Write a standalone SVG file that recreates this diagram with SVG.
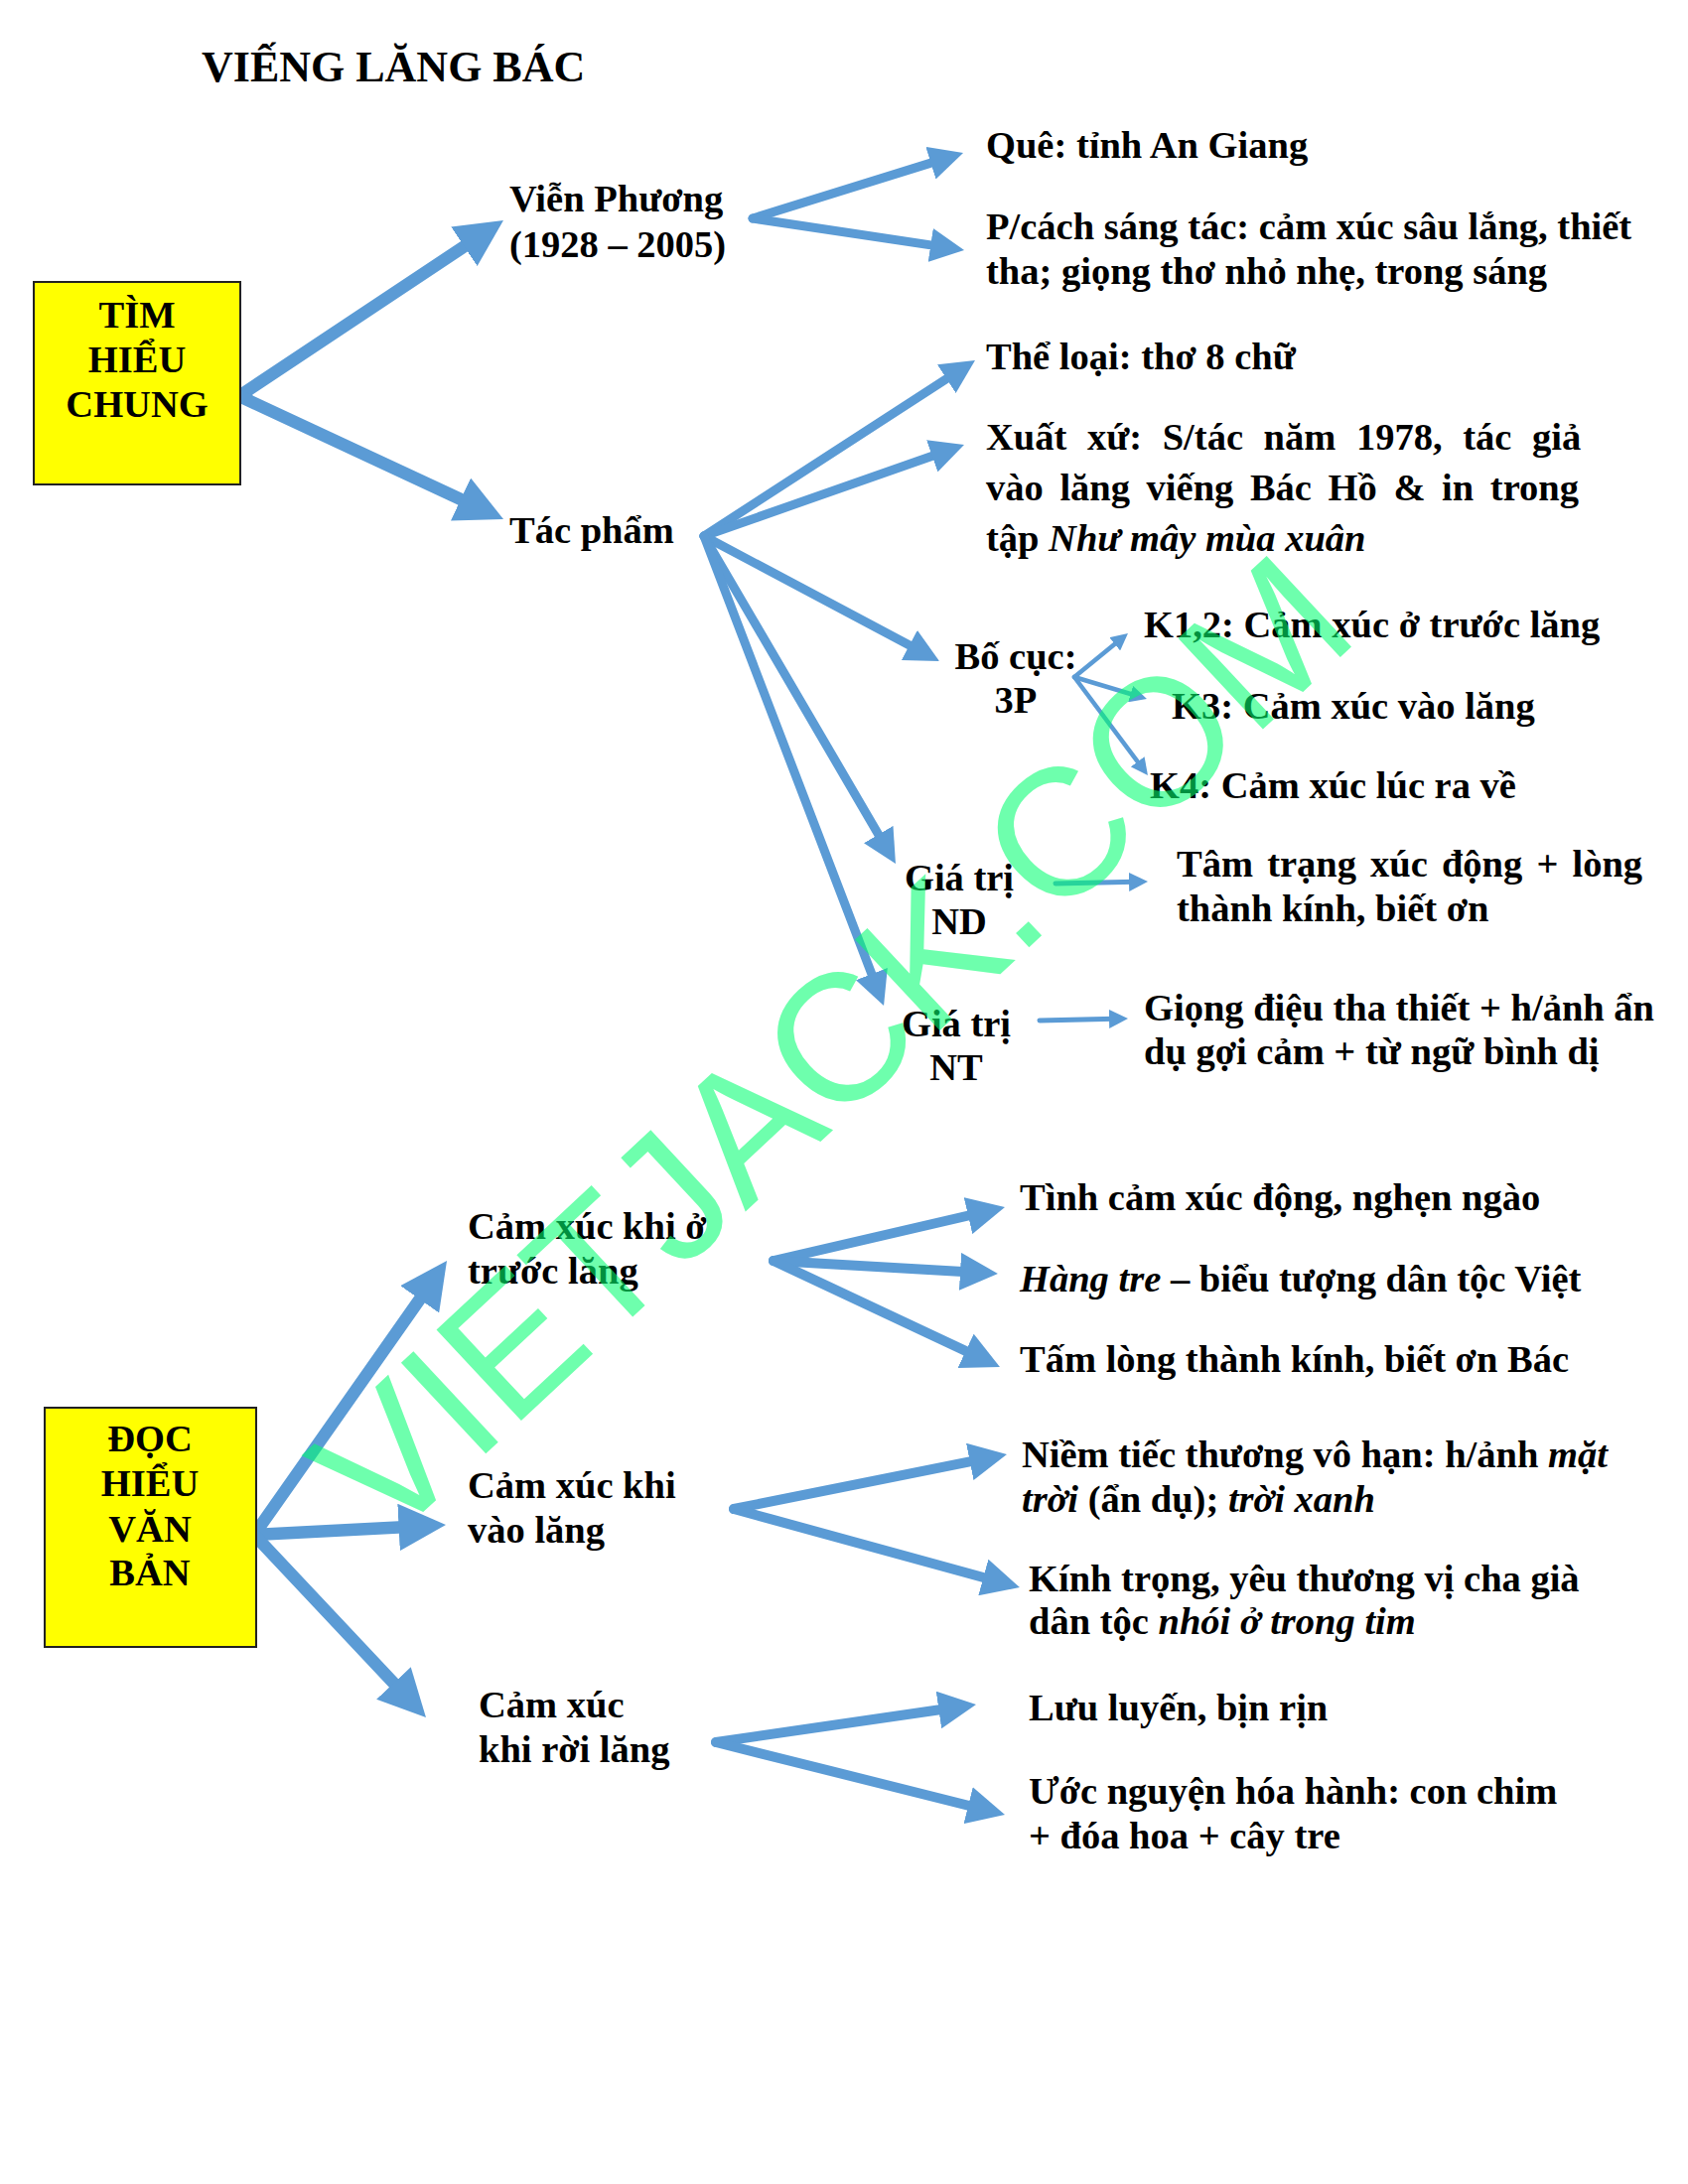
<svg xmlns="http://www.w3.org/2000/svg" width="1700" height="2200" viewBox="0 0 1700 2200">
<defs>
<marker id="ah" viewBox="0 0 10 10" refX="3" refY="5" markerWidth="3.8" markerHeight="3.8" orient="auto"><path d="M0,0 L10,5 L0,10 z" fill="#5B9BD5"/></marker>
<style>
.t{font-family:"Liberation Serif","Times New Roman",serif;font-weight:bold;font-size:38.5px;fill:#000}
.i{font-style:italic}
.c{text-anchor:middle}
.box{fill:#FFFF00;stroke:#222;stroke-width:2}
.a{stroke:#5B9BD5;fill:none;stroke-linecap:round;marker-end:url(#ah)}
.a1{stroke-width:12.5}
.a2{stroke-width:9}
.a3{stroke-width:10}
.a4{stroke-width:4.5}
.wm{font-family:"Liberation Sans",Arial,sans-serif;font-weight:normal;font-size:182px;fill:#00FF6E;fill-opacity:0.57;text-anchor:middle}
</style>
</defs>
<rect width="1700" height="2200" fill="#fff"/>
<g id="title"><text class="t" x="203" y="82" style="font-size:44px">VIẾNG LĂNG BÁC</text></g>

<g id="connectors">
<line class="a a1" x1="241" y1="399" x2="479.3" y2="240.4"/>
<line class="a a1" x1="241" y1="399" x2="476.9" y2="509"/>
<line class="a a2" x1="758" y1="220" x2="947.2" y2="161.1"/>
<line class="a a2" x1="758" y1="220" x2="947.4" y2="248.4"/>
<line class="a a2" x1="709" y1="540" x2="961.9" y2="376"/>
<line class="a a2" x1="709" y1="540" x2="948.4" y2="455.9"/>
<line class="a a2" x1="709" y1="540" x2="924.9" y2="654.8"/>
<line class="a a2" x1="709" y1="540" x2="889.9" y2="849.4"/>
<line class="a a2" x1="709" y1="540" x2="881.5" y2="990.7"/>
<line class="a a4" x1="1082" y1="682" x2="1126.7" y2="645.6"/>
<line class="a a4" x1="1082" y1="682" x2="1143.5" y2="700.5"/>
<line class="a a4" x1="1082" y1="682" x2="1148.8" y2="771.4"/>
<line class="a" style="stroke-width:5" x1="1063" y1="890" x2="1142.7" y2="888.3"/>
<line class="a" style="stroke-width:5" x1="1047" y1="1028" x2="1122.7" y2="1026.3"/>
<line class="a a1" x1="256" y1="1546" x2="430.9" y2="1297.2"/>
<line class="a a1" x1="256" y1="1546" x2="415.8" y2="1537.7"/>
<line class="a a1" x1="256" y1="1546" x2="406.2" y2="1705.8"/>
<line class="a a3" x1="779" y1="1270" x2="986.1" y2="1222"/>
<line class="a a3" x1="779" y1="1270" x2="978.4" y2="1281.5"/>
<line class="a a3" x1="779" y1="1270" x2="982.9" y2="1365.7"/>
<line class="a a3" x1="739" y1="1520" x2="987.9" y2="1470.2"/>
<line class="a a3" x1="739" y1="1520" x2="1001.3" y2="1592"/>
<line class="a a3" x1="721" y1="1755" x2="956.7" y2="1720.8"/>
<line class="a a3" x1="721" y1="1755" x2="986.2" y2="1821.5"/>
</g>

<g id="tim-hieu-chung">
<rect class="box" x="34" y="284" width="208" height="204"/>
<text class="t c" x="138" y="330">TÌM</text>
<text class="t c" x="138" y="375">HIỂU</text>
<text class="t c" x="138" y="420">CHUNG</text>
</g>
<g id="vien-phuong">
<text class="t" x="513" y="213">Viễn Phương</text>
<text class="t" x="513" y="259">(1928 – 2005)</text>
</g>
<g id="tac-pham"><text class="t" x="513" y="547">Tác phẩm</text></g>
<g id="que"><text class="t" x="993" y="159">Quê: tỉnh An Giang</text></g>
<g id="phong-cach">
<text class="t" x="993" y="241">P/cách sáng tác: cảm xúc sâu lắng, thiết</text>
<text class="t" x="993" y="286">tha; giọng thơ nhỏ nhẹ, trong sáng</text>
</g>
<g id="the-loai"><text class="t" x="993" y="372">Thể loại: thơ 8 chữ</text></g>
<g id="xuat-xu">
<text class="t" x="993" y="453" word-spacing="11">Xuất xứ: S/tác năm 1978, tác giả</text>
<text class="t" x="993" y="504" word-spacing="7">vào lăng viếng Bác Hồ &amp; in trong</text>
<text class="t" x="993" y="555">tập <tspan class="i">Như mây mùa xuân</tspan></text>
</g>
<g id="bo-cuc">
<text class="t c" x="1023" y="674">Bố cục:</text>
<text class="t c" x="1023" y="718">3P</text>
</g>
<g id="k12"><text class="t" x="1152" y="642">K1,2: Cảm xúc ở trước lăng</text></g>
<g id="k3"><text class="t" x="1180" y="724">K3: Cảm xúc vào lăng</text></g>
<g id="k4"><text class="t" x="1158" y="804">K4: Cảm xúc lúc ra về</text></g>
<g id="gia-tri-nd">
<text class="t c" x="966" y="897">Giá trị</text>
<text class="t c" x="966" y="941">ND</text>
</g>
<g id="tam-trang">
<text class="t" x="1185" y="883" word-spacing="4.5">Tâm trạng xúc động + lòng</text>
<text class="t" x="1185" y="928">thành kính, biết ơn</text>
</g>
<g id="gia-tri-nt">
<text class="t c" x="963" y="1044">Giá trị</text>
<text class="t c" x="963" y="1088">NT</text>
</g>
<g id="giong-dieu">
<text class="t" x="1152" y="1028">Giọng điệu tha thiết + h/ảnh ẩn</text>
<text class="t" x="1152" y="1072">dụ gợi cảm + từ ngữ bình dị</text>
</g>

<g id="doc-hieu-van-ban">
<rect class="box" x="45" y="1418" width="213" height="241"/>
<text class="t c" x="151" y="1462">ĐỌC</text>
<text class="t c" x="151" y="1507">HIỂU</text>
<text class="t c" x="151" y="1553">VĂN</text>
<text class="t c" x="151" y="1597">BẢN</text>
</g>
<g id="truoc-lang">
<text class="t" x="471" y="1248">Cảm xúc khi ở</text>
<text class="t" x="471" y="1293">trước lăng</text>
</g>
<g id="vao-lang">
<text class="t" x="471" y="1509">Cảm xúc khi</text>
<text class="t" x="471" y="1554">vào lăng</text>
</g>
<g id="roi-lang">
<text class="t" x="482" y="1730">Cảm xúc</text>
<text class="t" x="482" y="1775">khi rời lăng</text>
</g>
<g id="tinh-cam"><text class="t" x="1027" y="1219">Tình cảm xúc động, nghẹn ngào</text></g>
<g id="hang-tre"><text class="t" x="1027" y="1301"><tspan class="i">Hàng tre</tspan> – biểu tượng dân tộc Việt</text></g>
<g id="tam-long"><text class="t" x="1027" y="1382">Tấm lòng thành kính, biết ơn Bác</text></g>
<g id="niem-tiec">
<text class="t" x="1029" y="1478">Niềm tiếc thương vô hạn: h/ảnh <tspan class="i">mặt</tspan></text>
<text class="t" x="1029" y="1523"><tspan class="i">trời</tspan> (ẩn dụ); <tspan class="i">trời xanh</tspan></text>
</g>
<g id="kinh-trong">
<text class="t" x="1036" y="1603">Kính trọng, yêu thương vị cha già</text>
<text class="t" x="1036" y="1646">dân tộc <tspan class="i">nhói ở trong tim</tspan></text>
</g>
<g id="luu-luyen"><text class="t" x="1036" y="1733">Lưu luyến, bịn rịn</text></g>
<g id="uoc-nguyen">
<text class="t" x="1036" y="1817">Ước nguyện hóa hành: con chim</text>
<text class="t" x="1036" y="1862">+ đóa hoa + cây tre</text>
</g>

<g id="watermark"><text class="wm" transform="translate(880,1100) rotate(-43)">VIETJACK.COM</text></g>
</svg>
